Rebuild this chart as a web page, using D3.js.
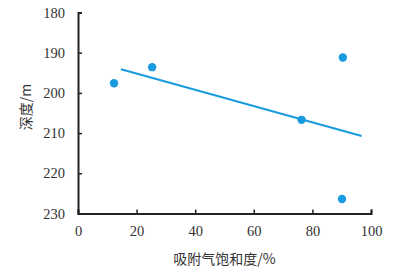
<!DOCTYPE html>
<html><head><meta charset="utf-8">
<script src="https://cdn.jsdelivr.net/npm/d3@7"></script>
<style>body{margin:0;background:#fff}svg{display:block}</style>
</head><body>
<script>
const saturation = [12.3, 25.3, 76.3, 90.4, 90.1];
const depth = [197.6, 193.6, 206.7, 191.2, 226.4];
const fitX = [14.7, 96.8];
const fitY = [194.1, 210.7];
const xTicks = [0, 20, 40, 60, 80, 100];
const yTicks = [180, 190, 200, 210, 220, 230];
const xLabel = "吸附气饱和度/%";
const yLabel = "深度/m";

const W = 410, H = 270;
const svg = d3.select("body").append("svg").attr("width", W).attr("height", H);
const x = d3.scaleLinear().domain([0, 100]).range([78, 371]);
const y = d3.scaleLinear().domain([180, 230]).range([12.5, 213.5]);
const color = "#1a9be0";
const font = "'Liberation Serif','DejaVu Serif',serif";

const gx = svg.append("g").attr("transform", `translate(0,${y(230)})`)
  .call(d3.axisBottom(x).tickValues(xTicks).tickSize(-4).tickPadding(9).tickFormat(d3.format("d")));
const gy = svg.append("g").attr("transform", `translate(${x(0)},0)`)
  .call(d3.axisLeft(y).tickValues(yTicks).tickSize(-4).tickPadding(10).tickFormat(d3.format("d")));
[gx, gy].forEach(g => {
  g.select(".domain").attr("stroke", "#222").attr("stroke-width", 2);
  g.selectAll(".tick line").attr("stroke", "#222").attr("stroke-width", 1.5);
  g.selectAll(".tick text").attr("fill", "#333").style("font-family", font).style("font-size", "14.5px");
});
gx.selectAll(".tick text").attr("dy", "0.9em");
gy.selectAll(".tick text").attr("dx", "-0.2em");

svg.append("line")
  .attr("x1", x(fitX[0])).attr("y1", y(fitY[0]))
  .attr("x2", x(fitX[1])).attr("y2", y(fitY[1]))
  .attr("stroke", color).attr("stroke-width", 2);

svg.selectAll("circle.pt").data(saturation).enter().append("circle")
  .attr("class", "pt")
  .attr("cx", d => x(d)).attr("cy", (d, i) => y(depth[i]))
  .attr("r", 4.2).attr("fill", color);

svg.append("text").attr("x", (x(0) + x(100)) / 2).attr("y", 264)
  .attr("text-anchor", "middle").attr("fill", "#333")
  .style("font-family", "'Noto Sans CJK SC',sans-serif").style("font-size", "14px")
  .text(xLabel);
svg.append("text").attr("transform", `translate(31,${y(203.5)}) rotate(-90)`)
  .attr("text-anchor", "middle").attr("fill", "#333")
  .style("font-family", "'Noto Sans CJK SC',sans-serif").style("font-size", "14px")
  .text(yLabel);
</script>
</body></html>
